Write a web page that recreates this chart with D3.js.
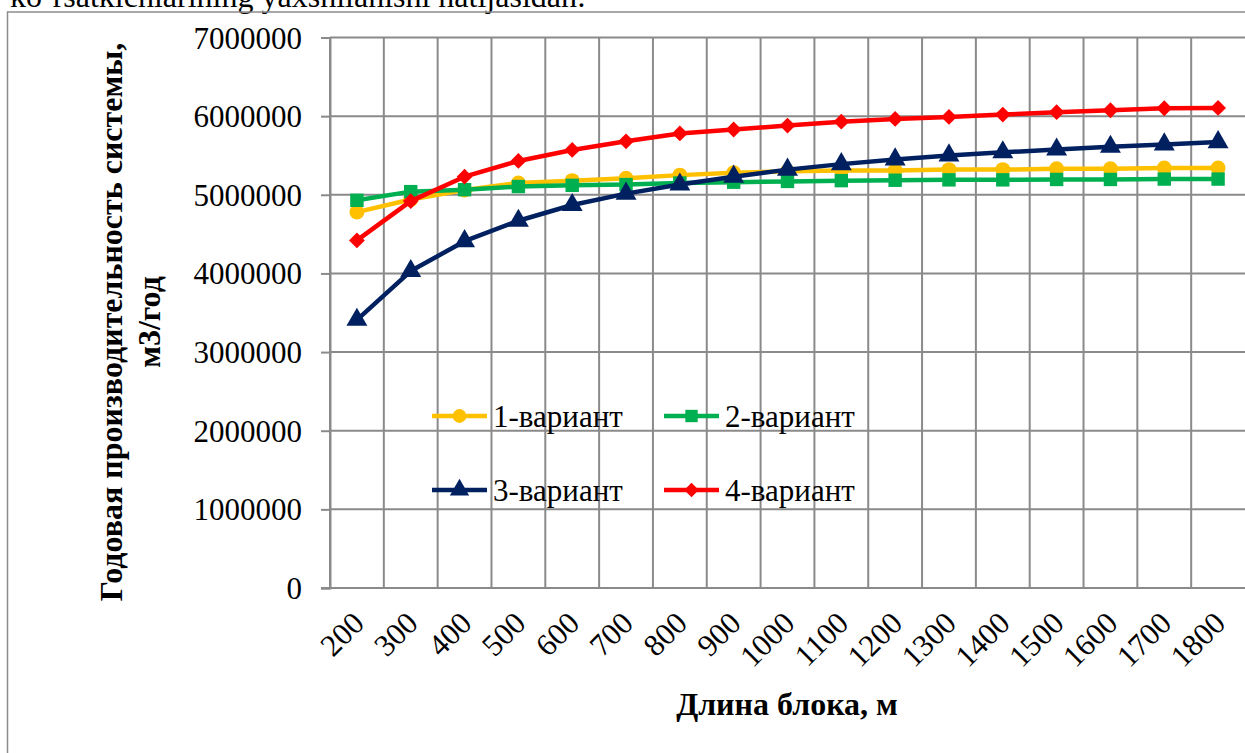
<!DOCTYPE html>
<html>
<head>
<meta charset="utf-8">
<script src="https://cdn.jsdelivr.net/npm/d3@7"></script>
<style>
  html, body { margin: 0; padding: 0; background: #fff; }
  #viz { width: 1245px; height: 753px; }
  text { font-family: "Liberation Serif", "Times New Roman", serif; fill: #000; }
</style>
</head>
<body>
<div id="viz"></div>
<script>
// Annual output of the system against block length, four variants.

var lengths = [200, 300, 400, 500, 600, 700, 800, 900, 1000, 1100, 1200, 1300, 1400, 1500, 1600, 1700, 1800];
var yTicks = [0, 1000000, 2000000, 3000000, 4000000, 5000000, 6000000, 7000000];

var variant1 = [4780000, 4940000, 5060000, 5150000, 5180000, 5210000, 5250000, 5280000, 5300000, 5310000, 5310000, 5320000, 5320000, 5330000, 5330000, 5340000, 5340000];
var variant2 = [4930000, 5040000, 5065000, 5105000, 5120000, 5130000, 5150000, 5160000, 5170000, 5180000, 5185000, 5190000, 5190000, 5195000, 5195000, 5200000, 5200000];
var variant3 = [3410000, 4030000, 4410000, 4670000, 4870000, 5015000, 5130000, 5230000, 5320000, 5390000, 5450000, 5500000, 5540000, 5575000, 5610000, 5640000, 5670000];
var variant4 = [4420000, 4920000, 5230000, 5430000, 5570000, 5680000, 5780000, 5830000, 5880000, 5930000, 5965000, 5990000, 6020000, 6050000, 6075000, 6100000, 6105000];

var seriesNames = ["1-вариант", "2-вариант", "3-вариант", "4-вариант"];
var seriesValues = [variant1, variant2, variant3, variant4];
var seriesColors = ["#FFC000", "#00B050", "#002060", "#FF0000"];
// the diamond is a square turned by 45 degrees, like Excel draws it
var seriesSymbols = [d3.symbolCircle, d3.symbolSquare, d3.symbolTriangle, d3.symbolSquare];
var symbolTurn = [0, 0, 0, 45];
var symbolSizes = [175, 180, 190, 125];

var yTitle = ["Годовая производительность системы,", "м3/год"];
var xTitle = "Длина блока, м";
var pageText = "ko‘rsatkichlarining yaxshilanishi natijasidan:";

var PlotLeft = 330, PlotRight = 1245, PlotTop = 37.5, PlotBottom = 588;
var GridColor = "#8a8a8a";

function main() {
    var svg = d3.select("#viz").append("svg")
        .attr("width", 1245)
        .attr("height", 753);

    var x = d3.scaleBand().domain(lengths).range([PlotLeft, PlotRight]);
    var y = d3.scaleLinear().domain([0, 7000000]).range([PlotBottom, PlotTop]);

    // document text cut by the top of the picture, and the chart frame
    svg.append("text")
        .attr("x", 10).attr("y", 7)
        .attr("font-size", 32)
        .text(pageText);
    svg.append("rect")
        .attr("x", 7.5).attr("y", 12)
        .attr("width", 1400).attr("height", 900)
        .attr("style", "fill:none;stroke:#8c8c8c;stroke-width:1.5");

    // grid
    var bounds = lengths.map(function(d) { return x(d); });
    svg.append("g").selectAll("line").data(bounds).enter().append("line")
        .attr("x1", function(d) { return d; }).attr("x2", function(d) { return d; })
        .attr("y1", PlotTop).attr("y2", PlotBottom)
        .attr("stroke", GridColor).attr("stroke-width", 2);
    svg.append("g").selectAll("line").data(yTicks).enter().append("line")
        .attr("x1", PlotLeft).attr("x2", PlotRight)
        .attr("y1", function(d) { return y(d); }).attr("y2", function(d) { return y(d); })
        .attr("stroke", GridColor).attr("stroke-width", 2);

    // y axis
    var yAxis = svg.append("g")
        .attr("transform", "translate(" + PlotLeft + ",0)")
        .call(d3.axisLeft(y).tickValues(yTicks).tickFormat(d3.format("d")).tickSize(9).tickPadding(19));
    yAxis.select(".domain").attr("stroke", GridColor).attr("stroke-width", 2);
    yAxis.selectAll(".tick line").attr("stroke", GridColor).attr("stroke-width", 2);
    yAxis.selectAll(".tick text")
        .attr("font-family", "Liberation Serif")
        .attr("font-size", 31)
        .attr("dy", "0.34em");

    // x axis line and rotated labels
    svg.append("line")
        .attr("x1", PlotLeft - 9).attr("x2", PlotRight)
        .attr("y1", PlotBottom).attr("y2", PlotBottom)
        .attr("stroke", GridColor).attr("stroke-width", 2);
    svg.append("g").selectAll("text").data(lengths).enter().append("text")
        .attr("transform", function(d) {
            return "translate(" + (x(d) + x.bandwidth() / 2 + 9) + ",625) rotate(-45)";
        })
        .attr("text-anchor", "end")
        .attr("font-size", 31)
        .text(function(d) { return d; });

    // titles
    var yt = svg.append("text")
        .attr("transform", "translate(0,322) rotate(-90)")
        .attr("text-anchor", "middle")
        .attr("font-size", 32)
        .attr("font-weight", "bold");
    yt.append("tspan").attr("x", 0).attr("y", 122).text(yTitle[0]);
    yt.append("tspan").attr("x", 0).attr("y", 160).text(yTitle[1]);

    svg.append("text")
        .attr("x", 787).attr("y", 715)
        .attr("text-anchor", "middle")
        .attr("font-size", 32)
        .attr("font-weight", "bold")
        .text(xTitle);

    // series
    var line = d3.line()
        .x(function(d, i) { return x(lengths[i]) + x.bandwidth() / 2; })
        .y(function(d) { return y(d); });

    for (var s = 0; s < seriesValues.length; s++) {
        var g = svg.append("g");
        var turn = symbolTurn[s];
        g.append("path")
            .datum(seriesValues[s])
            .attr("d", line)
            .attr("fill", "none")
            .attr("stroke", seriesColors[s])
            .attr("stroke-width", 4.5)
            .attr("stroke-linejoin", "round");
        g.selectAll("path.mark").data(seriesValues[s]).enter().append("path")
            .attr("class", "mark")
            .attr("d", d3.symbol().type(seriesSymbols[s]).size(symbolSizes[s]))
            .attr("transform", function(d, i) {
                return "translate(" + (x(lengths[i]) + x.bandwidth() / 2) + "," + y(d) + ") rotate(" + turn + ")";
            })
            .attr("fill", seriesColors[s]);
    }

    // legend, two by two, no background
    var legendX = [432, 664];
    var legendY = [416, 490];
    for (var k = 0; k < seriesNames.length; k++) {
        var lx = legendX[k % 2], ly = legendY[Math.floor(k / 2)];
        var lg = svg.append("g");
        lg.append("line")
            .attr("x1", lx).attr("x2", lx + 55)
            .attr("y1", ly).attr("y2", ly)
            .attr("stroke", seriesColors[k]).attr("stroke-width", 4.5);
        lg.append("path")
            .attr("d", d3.symbol().type(seriesSymbols[k]).size(symbolSizes[k] * 0.85))
            .attr("transform", "translate(" + (lx + 27.5) + "," + ly + ") rotate(" + symbolTurn[k] + ")")
            .attr("fill", seriesColors[k]);
        lg.append("text")
            .attr("x", lx + 61).attr("y", ly + 11)
            .attr("font-size", 31)
            .text(seriesNames[k]);
    }
}

main();
</script>
</body>
</html>
